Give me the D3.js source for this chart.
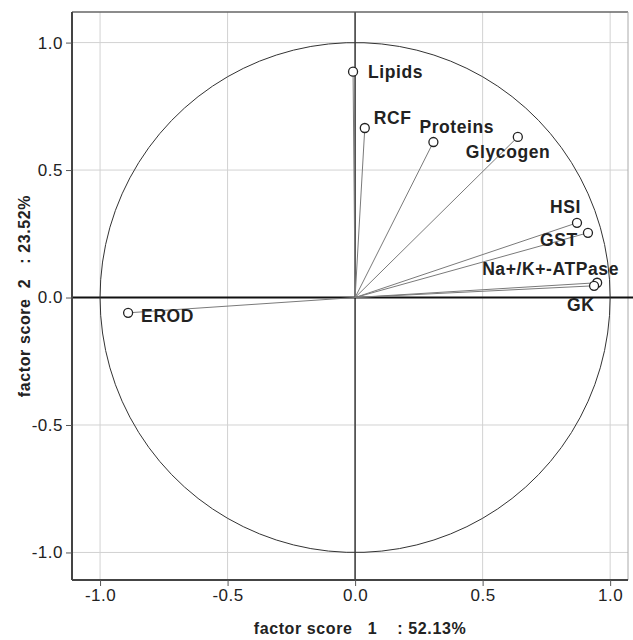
<!DOCTYPE html>
<html>
<head>
<meta charset="utf-8">
<script src="https://cdn.jsdelivr.net/npm/d3@7"></script>
<style>
  body { margin: 0; background: #fff; }
  svg { display: block; font-family: "Liberation Sans", Arial, sans-serif; }
</style>
</head>
<body>
<div id="chart"></div>
<script>
// loadings
const variables = ['Lipids', 'RCF', 'Proteins', 'Glycogen', 'HSI', 'GST', 'Na+/K+-ATPase', 'GK', 'EROD']
const factor1 = [-0.008, 0.038, 0.307, 0.638, 0.87, 0.913, 0.949, 0.937, -0.89]
const factor2 = [0.886, 0.665, 0.61, 0.63, 0.293, 0.254, 0.058, 0.046, -0.06]
const tickValues = [-1.0, -0.5, 0.0, 0.5, 1.0]
const xTitle = 'factor score   1    : 52.13%'
const yTitle = 'factor score  2   : 23.52%'

;(() => {
  const width = 633
  const height = 640
  const frame = { left: 72, right: 628, top: 12, bottom: 580 }

  // label offsets from the marker, px
  const labelPos = {
    'Lipids': [15, 6],
    'RCF': [9, -4],
    'Proteins': [-14, -9],
    'Glycogen': [-52, 21],
    'HSI': [-27, -10],
    'GST': [-48, 13],
    'Na+/K+-ATPase': [-115, -8],
    'GK': [-27, 25],
    'EROD': [13, 9]
  }

  const data = variables.map((name, i) => ({ name, x: factor1[i], y: factor2[i] }))

  const svg = d3.select('#chart')
    .append('svg')
    .attr('width', width)
    .attr('height', height)

  const xScale = d3.scaleLinear()
    .domain([-1.11, 1.07])
    .range([frame.left, frame.right])
  const yScale = d3.scaleLinear()
    .domain([-1.108, 1.12])
    .range([frame.bottom, frame.top])

  const fmt = d => d.toFixed(1)

  // grid
  const others = tickValues.filter(d => d !== 0)
  svg.append('g')
    .selectAll('line')
    .data(others)
    .join('line')
    .attr('x1', d => xScale(d)).attr('x2', d => xScale(d))
    .attr('y1', frame.top).attr('y2', frame.bottom)
    .attr('stroke', '#d2d2d2')
  svg.append('g')
    .selectAll('line')
    .data(others)
    .join('line')
    .attr('x1', frame.left).attr('x2', frame.right)
    .attr('y1', d => yScale(d)).attr('y2', d => yScale(d))
    .attr('stroke', '#d2d2d2')

  // frame top / right
  svg.append('line')
    .attr('x1', frame.left).attr('x2', frame.right)
    .attr('y1', frame.top).attr('y2', frame.top)
    .attr('stroke', '#666').attr('stroke-width', 1.5)
  svg.append('line')
    .attr('x1', frame.right).attr('x2', frame.right)
    .attr('y1', frame.top).attr('y2', frame.bottom)
    .attr('stroke', '#aaa')

  // zero lines
  svg.append('line')
    .attr('x1', xScale(0)).attr('x2', xScale(0))
    .attr('y1', frame.top).attr('y2', frame.bottom)
    .attr('stroke', '#555').attr('stroke-width', 1.8)
  svg.append('line')
    .attr('x1', frame.left).attr('x2', width)
    .attr('y1', yScale(0)).attr('y2', yScale(0))
    .attr('stroke', '#111').attr('stroke-width', 2)

  // unit circle
  const circlePts = d3.range(0, 361, 4).map(a => [Math.cos(a * Math.PI / 180), Math.sin(a * Math.PI / 180)])
  svg.append('path')
    .datum(circlePts)
    .attr('d', d3.line().x(d => xScale(d[0])).y(d => yScale(d[1])))
    .attr('fill', 'none')
    .attr('stroke', '#333')
    .attr('stroke-width', 1)

  // axes
  const xAxis = d3.axisBottom(xScale).tickValues(tickValues).tickFormat(fmt).tickSizeOuter(0).tickSize(6)
  const yAxis = d3.axisLeft(yScale).tickValues(tickValues).tickFormat(fmt).tickSizeOuter(0).tickSize(6)
  svg.append('g')
    .attr('transform', `translate(0,${frame.bottom})`)
    .call(xAxis)
    .call(g => g.select('.domain').attr('d', `M${frame.left},0H${frame.right}`).attr('stroke', '#444').attr('stroke-width', 2))
    .call(g => g.selectAll('.tick line').attr('stroke', '#555'))
    .call(g => g.selectAll('.tick text')
      .attr('font-size', 17).attr('letter-spacing', 0.5).attr('fill', '#222')
      .attr('font-family', 'Liberation Sans, Arial'))
  svg.append('g')
    .attr('transform', `translate(${frame.left},0)`)
    .call(yAxis)
    .call(g => g.select('.domain').attr('d', `M0,${frame.top}V${frame.bottom}`).attr('stroke', '#444').attr('stroke-width', 2))
    .call(g => g.selectAll('.tick line').attr('stroke', '#555'))
    .call(g => g.selectAll('.tick text')
      .attr('font-size', 17).attr('letter-spacing', 0.5).attr('fill', '#222')
      .attr('font-family', 'Liberation Sans, Arial'))

  // loading vectors
  svg.append('g')
    .selectAll('line')
    .data(data)
    .join('line')
    .attr('x1', xScale(0)).attr('y1', yScale(0))
    .attr('x2', d => xScale(d.x)).attr('y2', d => yScale(d.y))
    .attr('stroke', '#7a7a7a')
    .attr('stroke-width', 1)

  svg.append('g')
    .selectAll('circle')
    .data(data)
    .join('circle')
    .attr('cx', d => xScale(d.x))
    .attr('cy', d => yScale(d.y))
    .attr('r', 4.5)
    .attr('fill', '#fff')
    .attr('stroke', '#222')
    .attr('stroke-width', 1.3)

  svg.append('g')
    .selectAll('text')
    .data(data)
    .join('text')
    .attr('x', d => xScale(d.x) + labelPos[d.name][0])
    .attr('y', d => yScale(d.y) + labelPos[d.name][1])
    .attr('font-size', 17.5)
    .attr('font-weight', 'bold')
    .attr('letter-spacing', 0.6)
    .attr('fill', '#222')
    .text(d => d.name)

  // axis titles
  svg.append('text')
    .attr('x', 360)
    .attr('y', 634)
    .attr('text-anchor', 'middle')
    .attr('font-size', 16)
    .attr('font-weight', 'bold')
    .attr('letter-spacing', 0.6)
    .attr('fill', '#222')
    .style('white-space', 'pre')
    .text(xTitle)
  svg.append('text')
    .attr('transform', `translate(30,296) rotate(-90)`)
    .attr('text-anchor', 'middle')
    .attr('font-size', 16)
    .attr('font-weight', 'bold')
    .attr('letter-spacing', 0.6)
    .attr('fill', '#222')
    .style('white-space', 'pre')
    .text(yTitle)
})()
</script>
</body>
</html>
